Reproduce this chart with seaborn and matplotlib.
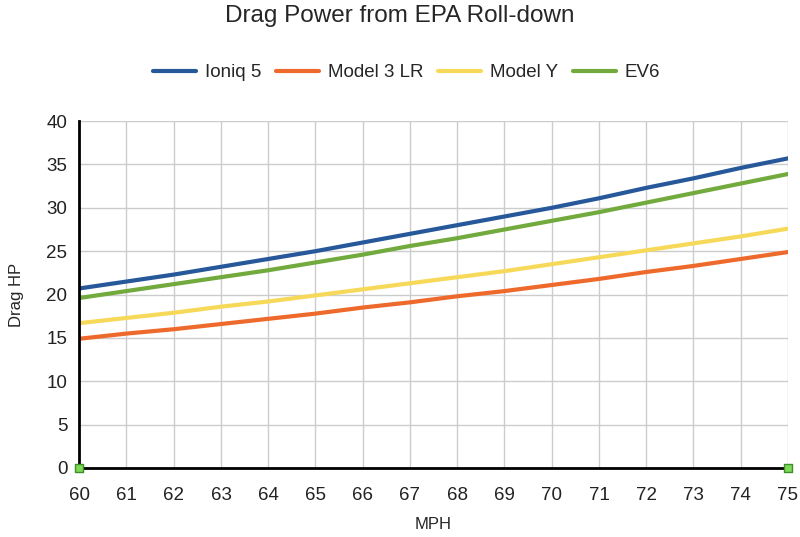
import numpy as np
import pandas as pd
import matplotlib
matplotlib.use("Agg")
import matplotlib.pyplot as plt
import seaborn as sns

mph = [60, 61, 62, 63, 64, 65, 66, 67, 68, 69, 70, 71, 72, 73, 74, 75]
ioniq5 = [20.7, 21.5, 22.3, 23.2, 24.1, 25.0, 26.0, 27.0, 28.0, 29.0, 30.0, 31.1, 32.3, 33.4, 34.6, 35.7]
model3lr = [14.9, 15.5, 16.0, 16.6, 17.2, 17.8, 18.5, 19.1, 19.8, 20.4, 21.1, 21.8, 22.6, 23.3, 24.1, 24.9]
modely = [16.7, 17.3, 17.9, 18.6, 19.2, 19.9, 20.6, 21.3, 22.0, 22.7, 23.5, 24.3, 25.1, 25.9, 26.7, 27.6]
ev6 = [19.6, 20.4, 21.2, 22.0, 22.8, 23.7, 24.6, 25.6, 26.5, 27.5, 28.5, 29.5, 30.6, 31.7, 32.8, 33.9]

names = ["Ioniq 5", "Model 3 LR", "Model Y", "EV6"]
colors = ["#26589A", "#EE6A2C", "#F7D95A", "#72AA3E"]

df = pd.DataFrame({"MPH": mph, "Ioniq 5": ioniq5, "Model 3 LR": model3lr,
                   "Model Y": modely, "EV6": ev6})
long = df.melt(id_vars="MPH", var_name="Car", value_name="HP")

sns.set_style("white")
plt.rcParams["font.family"] = ["Liberation Sans", "DejaVu Sans"]

fig = plt.figure(figsize=(8, 5.37), dpi=100)
ax = fig.add_axes([0.099, 0.1285, 0.886, 0.646])

sns.lineplot(data=long, x="MPH", y="HP", hue="Car", hue_order=names,
             palette=colors, linewidth=3, ax=ax, legend=True)

# small green squares at the axis ends
ax.scatter([mph[0], mph[-1]], [0, 0], marker="s", s=40, color="#7ED957",
           edgecolor="#3E8E2A", linewidth=1, zorder=5, clip_on=False)

ax.set_xlim(60, 75)
ax.set_ylim(0, 40)
ax.set_xticks(mph)
ax.set_yticks(range(0, 41, 5))
ax.grid(True, color="#CCCCCC", linewidth=1)
ax.set_axisbelow(True)
for s in ["top", "right"]:
    ax.spines[s].set_visible(False)
for s in ["left", "bottom"]:
    ax.spines[s].set_color("black")
    ax.spines[s].set_linewidth(2)
ax.tick_params(axis="both", direction="out", length=5, width=2, color="black",
               labelsize=13.5, labelcolor="#222222")
ax.tick_params(axis="x", pad=9)

ax.set_xlabel("MPH", fontsize=12, labelpad=9)
ax.set_ylabel("Drag HP", fontsize=12, labelpad=16)

handles, labels = ax.get_legend_handles_labels()
ax.legend(handles, labels, loc="center", bbox_to_anchor=(0.462, 1.14),
          ncol=4, frameon=False, fontsize=13.5, handlelength=2.3,
          columnspacing=0.8, handletextpad=0.45)

fig.suptitle("Drag Power from EPA Roll-down", fontsize=17.5, y=0.99)

fig.savefig("out.png", dpi=100)
